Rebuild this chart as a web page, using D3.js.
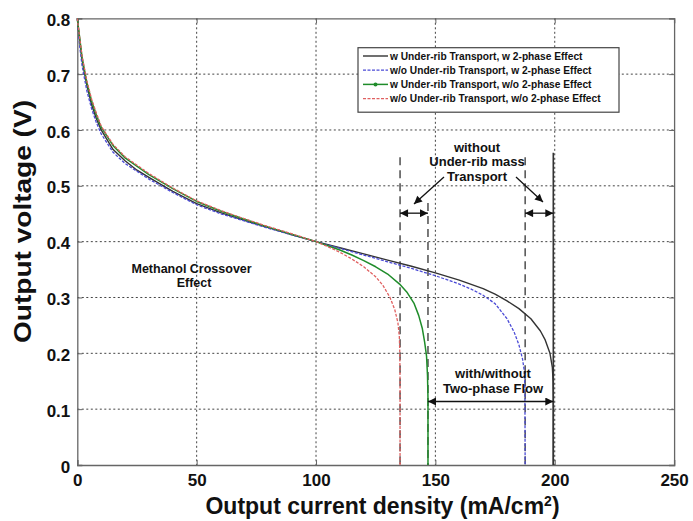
<!DOCTYPE html>
<html>
<head>
<meta charset="utf-8">
<script src="https://cdn.jsdelivr.net/npm/d3@7"></script>
<style>
  html, body { margin: 0; padding: 0; background: #fff; }
  svg { display: block; font-family: "Liberation Sans", Arial, Helvetica, sans-serif; }
</style>
</head>
<body>
<svg id="chart" width="693" height="521"></svg>
<script>
// Polarization curves: current density (mA/cm²) vs output voltage (V)
const seriesNames = [
  "w Under-rib Transport, w 2-phase Effect",
  "w/o Under-rib Transport, w 2-phase Effect",
  "w Under-rib Transport, w/o 2-phase Effect",
  "w/o Under-rib Transport, w/o 2-phase Effect"
];

const blackCurrent = [0, 1, 2, 4, 6, 8, 10, 15, 20, 25, 30, 40, 50, 60, 70, 80, 90, 100, 110, 120, 130, 140, 150, 160, 170, 175, 180, 185, 190, 194, 196, 198, 199, 199.3, 199.4, 199.4];
const blackVoltage = [0.80, 0.76, 0.725, 0.68, 0.645, 0.62, 0.60, 0.565, 0.545, 0.528, 0.515, 0.49, 0.468, 0.452, 0.438, 0.425, 0.412, 0.400, 0.389, 0.378, 0.367, 0.356, 0.344, 0.331, 0.316, 0.306, 0.294, 0.280, 0.262, 0.240, 0.224, 0.200, 0.175, 0.150, 0.120, 0.0];

const blueCurrent = [0, 1, 2, 4, 6, 8, 10, 15, 20, 30, 40, 50, 60, 70, 80, 90, 100, 110, 120, 130, 140, 150, 160, 165, 170, 175, 180, 183, 185, 186.5, 187.2, 187.5, 187.6];
const blueVoltage = [0.80, 0.75, 0.715, 0.67, 0.638, 0.613, 0.593, 0.56, 0.54, 0.512, 0.488, 0.466, 0.45, 0.437, 0.424, 0.412, 0.400, 0.388, 0.376, 0.364, 0.352, 0.339, 0.324, 0.315, 0.304, 0.289, 0.262, 0.238, 0.215, 0.19, 0.17, 0.14, 0.0];

const greenCurrent = [0, 1, 2, 4, 6, 8, 10, 15, 20, 30, 40, 50, 60, 70, 80, 90, 100, 110, 115, 120, 125, 130, 135, 138, 141, 143, 144.5, 145.5, 146.3, 146.7, 146.9, 146.9];
const greenVoltage = [0.80, 0.765, 0.73, 0.685, 0.652, 0.627, 0.605, 0.572, 0.55, 0.52, 0.495, 0.472, 0.455, 0.44, 0.426, 0.413, 0.400, 0.385, 0.376, 0.366, 0.355, 0.342, 0.324, 0.31, 0.29, 0.268, 0.245, 0.22, 0.195, 0.16, 0.12, 0.0];

const redCurrent = [0, 1, 2, 4, 6, 8, 10, 15, 20, 30, 40, 50, 60, 70, 80, 90, 100, 105, 110, 115, 120, 125, 128, 131, 133, 134.3, 134.9, 135.1, 135.2, 135.2];
const redVoltage = [0.80, 0.765, 0.732, 0.688, 0.655, 0.63, 0.607, 0.574, 0.552, 0.522, 0.496, 0.473, 0.456, 0.441, 0.427, 0.414, 0.400, 0.391, 0.381, 0.369, 0.355, 0.337, 0.322, 0.30, 0.278, 0.255, 0.23, 0.2, 0.15, 0.0];

const xTicks = [0, 50, 100, 150, 200, 250];
const yTicks = [0, 0.1, 0.2, 0.3, 0.4, 0.5, 0.6, 0.7, 0.8];
const yTickLabels = ["0", "0.1", "0.2", "0.3", "0.4", "0.5", "0.6", "0.7", "0.8"];

// Limiting current markers (vertical guide lines) and their top voltages
const limitCurrents = [135.2, 146.9, 187.6, 199.4];
const limitTops = [0.551, 0.469, 0.551, 0.559];

const svg = d3.select("#chart");
const plotLeft = 77.3, plotRight = 674.1, plotTop = 18.3, plotBottom = 465;

const x = d3.scaleLinear().domain([0, 250]).range([plotLeft, plotRight]);
const y = d3.scaleLinear().domain([0, 0.8]).range([plotBottom, plotTop]);

// Arrow heads
const defs = svg.append("defs");
defs.append("marker")
  .attr("id", "head")
  .attr("viewBox", "0 0 10 10")
  .attr("refX", 10).attr("refY", 5)
  .attr("markerWidth", 11).attr("markerHeight", 8)
  .attr("markerUnits", "userSpaceOnUse")
  .attr("orient", "auto-start-reverse")
  .append("path")
  .attr("d", "M0,0 L10,5 L0,10 Z")
  .attr("fill", "#111");

// Grid
const gridColor = "#444";
svg.append("g").selectAll("line")
  .data(xTicks.slice(1, -1))
  .join("line")
  .attr("x1", d => x(d)).attr("x2", d => x(d))
  .attr("y1", plotTop).attr("y2", plotBottom)
  .attr("stroke", gridColor).attr("stroke-width", 1)
  .attr("stroke-dasharray", "2,2.5");
svg.append("g").selectAll("line")
  .data(yTicks.slice(1, -1))
  .join("line")
  .attr("x1", plotLeft).attr("x2", plotRight)
  .attr("y1", d => y(d)).attr("y2", d => y(d))
  .attr("stroke", gridColor).attr("stroke-width", 1)
  .attr("stroke-dasharray", "2,2.5");

// Axes with inward ticks
const axisFont = "bold 17px 'Liberation Sans', Arial, sans-serif";
const xAxis = svg.append("g").attr("transform", `translate(0,${plotBottom})`)
  .call(d3.axisBottom(x).tickValues(xTicks).tickSize(-5).tickPadding(9).tickFormat(d3.format("d")));
const yAxis = svg.append("g").attr("transform", `translate(${plotLeft},0)`)
  .call(d3.axisLeft(y).tickValues(yTicks).tickSize(-5).tickPadding(7).tickFormat((d, i) => yTickLabels[i]));
svg.append("g").attr("transform", `translate(0,${plotTop})`)
  .call(d3.axisTop(x).tickValues(xTicks).tickSize(-5).tickFormat(""));
svg.append("g").attr("transform", `translate(${plotRight},0)`)
  .call(d3.axisRight(y).tickValues(yTicks).tickSize(-5).tickFormat(""));
svg.selectAll(".domain").attr("stroke", "#666").attr("stroke-width", 1.3);
svg.selectAll(".tick line").attr("stroke", "#666");
[xAxis, yAxis].forEach(g => g.selectAll("text").style("font", axisFont).attr("fill", "#111"));
yAxis.selectAll("text").attr("dy", "0.42em");

// Axis titles
svg.append("text")
  .attr("x", (205 + 560) / 2).attr("y", 514)
  .attr("text-anchor", "middle")
  .style("font", "bold 23px 'Liberation Sans', Arial, sans-serif")
  .attr("fill", "#111")
  .call(t => {
    t.append("tspan").text("Output current density (mA/cm");
    t.append("tspan").text("2").attr("dy", -8).style("font-size", "14px");
    t.append("tspan").text(")").attr("dy", 8);
  });
svg.append("text")
  .attr("transform", `translate(31,${(100 + 343) / 2}) rotate(-90)`)
  .attr("text-anchor", "middle")
  .attr("textLength", 243)
  .attr("lengthAdjust", "spacingAndGlyphs")
  .style("font", "bold 24px 'Liberation Sans', Arial, sans-serif")
  .attr("fill", "#111")
  .text("Output voltage (V)");

// Limiting-current guide lines
svg.append("g").selectAll("line")
  .data(limitCurrents)
  .join("line")
  .attr("x1", d => x(d)).attr("x2", d => x(d))
  .attr("y1", (d, i) => y(limitTops[i])).attr("y2", plotBottom)
  .attr("stroke", "#333")
  .attr("stroke-width", (d, i) => i === 3 ? 1.6 : 1.3)
  .attr("stroke-dasharray", (d, i) => i === 3 ? null : "8,5");

// Curves
const series = [
  { xs: blackCurrent, ys: blackVoltage, color: "#333333", dash: null, width: 1.4 },
  { xs: blueCurrent, ys: blueVoltage, color: "#4b4bd6", dash: "3,1.5", width: 1.3 },
  { xs: greenCurrent, ys: greenVoltage, color: "#1f8c2a", dash: null, width: 1.5 },
  { xs: redCurrent, ys: redVoltage, color: "#e06060", dash: "3,1.5", width: 1.3 }
];
const lineX = d3.line().x(d => x(d[0])).y(d => y(d[1]));
series.forEach(s => {
  const pts = s.xs.map((v, i) => [v, s.ys[i]]);
  svg.append("path")
    .datum(pts)
    .attr("d", lineX)
    .attr("fill", "none")
    .attr("stroke", s.color)
    .attr("stroke-width", s.width)
    .attr("stroke-linejoin", "round")
    .attr("stroke-dasharray", s.dash);
});

// Annotations
const noteFont = "bold 13px 'Liberation Sans', Arial, sans-serif";
function note(lines, cx, cy, lh) {
  const t = svg.append("text").attr("text-anchor", "middle").style("font", noteFont).attr("fill", "#111");
  lines.forEach((s, i) => t.append("tspan").attr("x", cx).attr("y", cy + i * lh).attr("dy", "0.35em").text(s));
}
note(["without", "Under-rib mass", "Transport"], 477, 147, 14.5);
note(["with/without", "Two-phase Flow"], 493, 373, 15.5);
svg.append("text").attr("x", 131.5).attr("y", 269).attr("dy", "0.35em")
  .style("font", "bold 12.5px 'Liberation Sans', Arial, sans-serif").attr("fill", "#111").text("Methanol Crossover");
svg.append("text").attr("x", 194).attr("y", 282.5).attr("dy", "0.35em").attr("text-anchor", "middle")
  .style("font", "bold 12.5px 'Liberation Sans', Arial, sans-serif").attr("fill", "#111").text("Effect");

function arrow(x1, y1, x2, y2, both) {
  const p = svg.append("line")
    .attr("x1", x1).attr("y1", y1).attr("x2", x2).attr("y2", y2)
    .attr("stroke", "#111").attr("stroke-width", 1.3)
    .attr("marker-end", "url(#head)");
  if (both) p.attr("marker-start", "url(#head)");
}
const arrowV = 0.451;
arrow(x(limitCurrents[0]), y(arrowV), x(limitCurrents[1]), y(arrowV), true);
arrow(x(limitCurrents[2]), y(arrowV), x(limitCurrents[3]), y(arrowV), true);
arrow(444, 177, 414, 204, false);
arrow(516, 177, 543, 202, false);
arrow(x(limitCurrents[1]), 401.5, x(limitCurrents[3]), 401.5, true);

// Legend
const lg = svg.append("g");
lg.append("rect")
  .attr("x", 358).attr("y", 47.7).attr("width", 261).attr("height", 64.5)
  .attr("fill", "#fff").attr("stroke", "#444").attr("stroke-width", 1.2);
series.forEach((s, i) => {
  const ly = 56 + i * 14.2;
  lg.append("line")
    .attr("x1", 363).attr("x2", 388).attr("y1", ly).attr("y2", ly)
    .attr("stroke", s.color).attr("stroke-width", s.width)
    .attr("stroke-dasharray", s.dash);
  if (i === 2) {
    lg.append("circle").attr("cx", 375.5).attr("cy", ly).attr("r", 2).attr("fill", s.color);
  }
  lg.append("text")
    .attr("x", 390).attr("y", ly).attr("dy", "0.35em")
    .style("font", "bold 10.2px 'Liberation Sans', Arial, sans-serif")
    .attr("fill", "#111")
    .text(seriesNames[i]);
});
</script>
</body>
</html>
